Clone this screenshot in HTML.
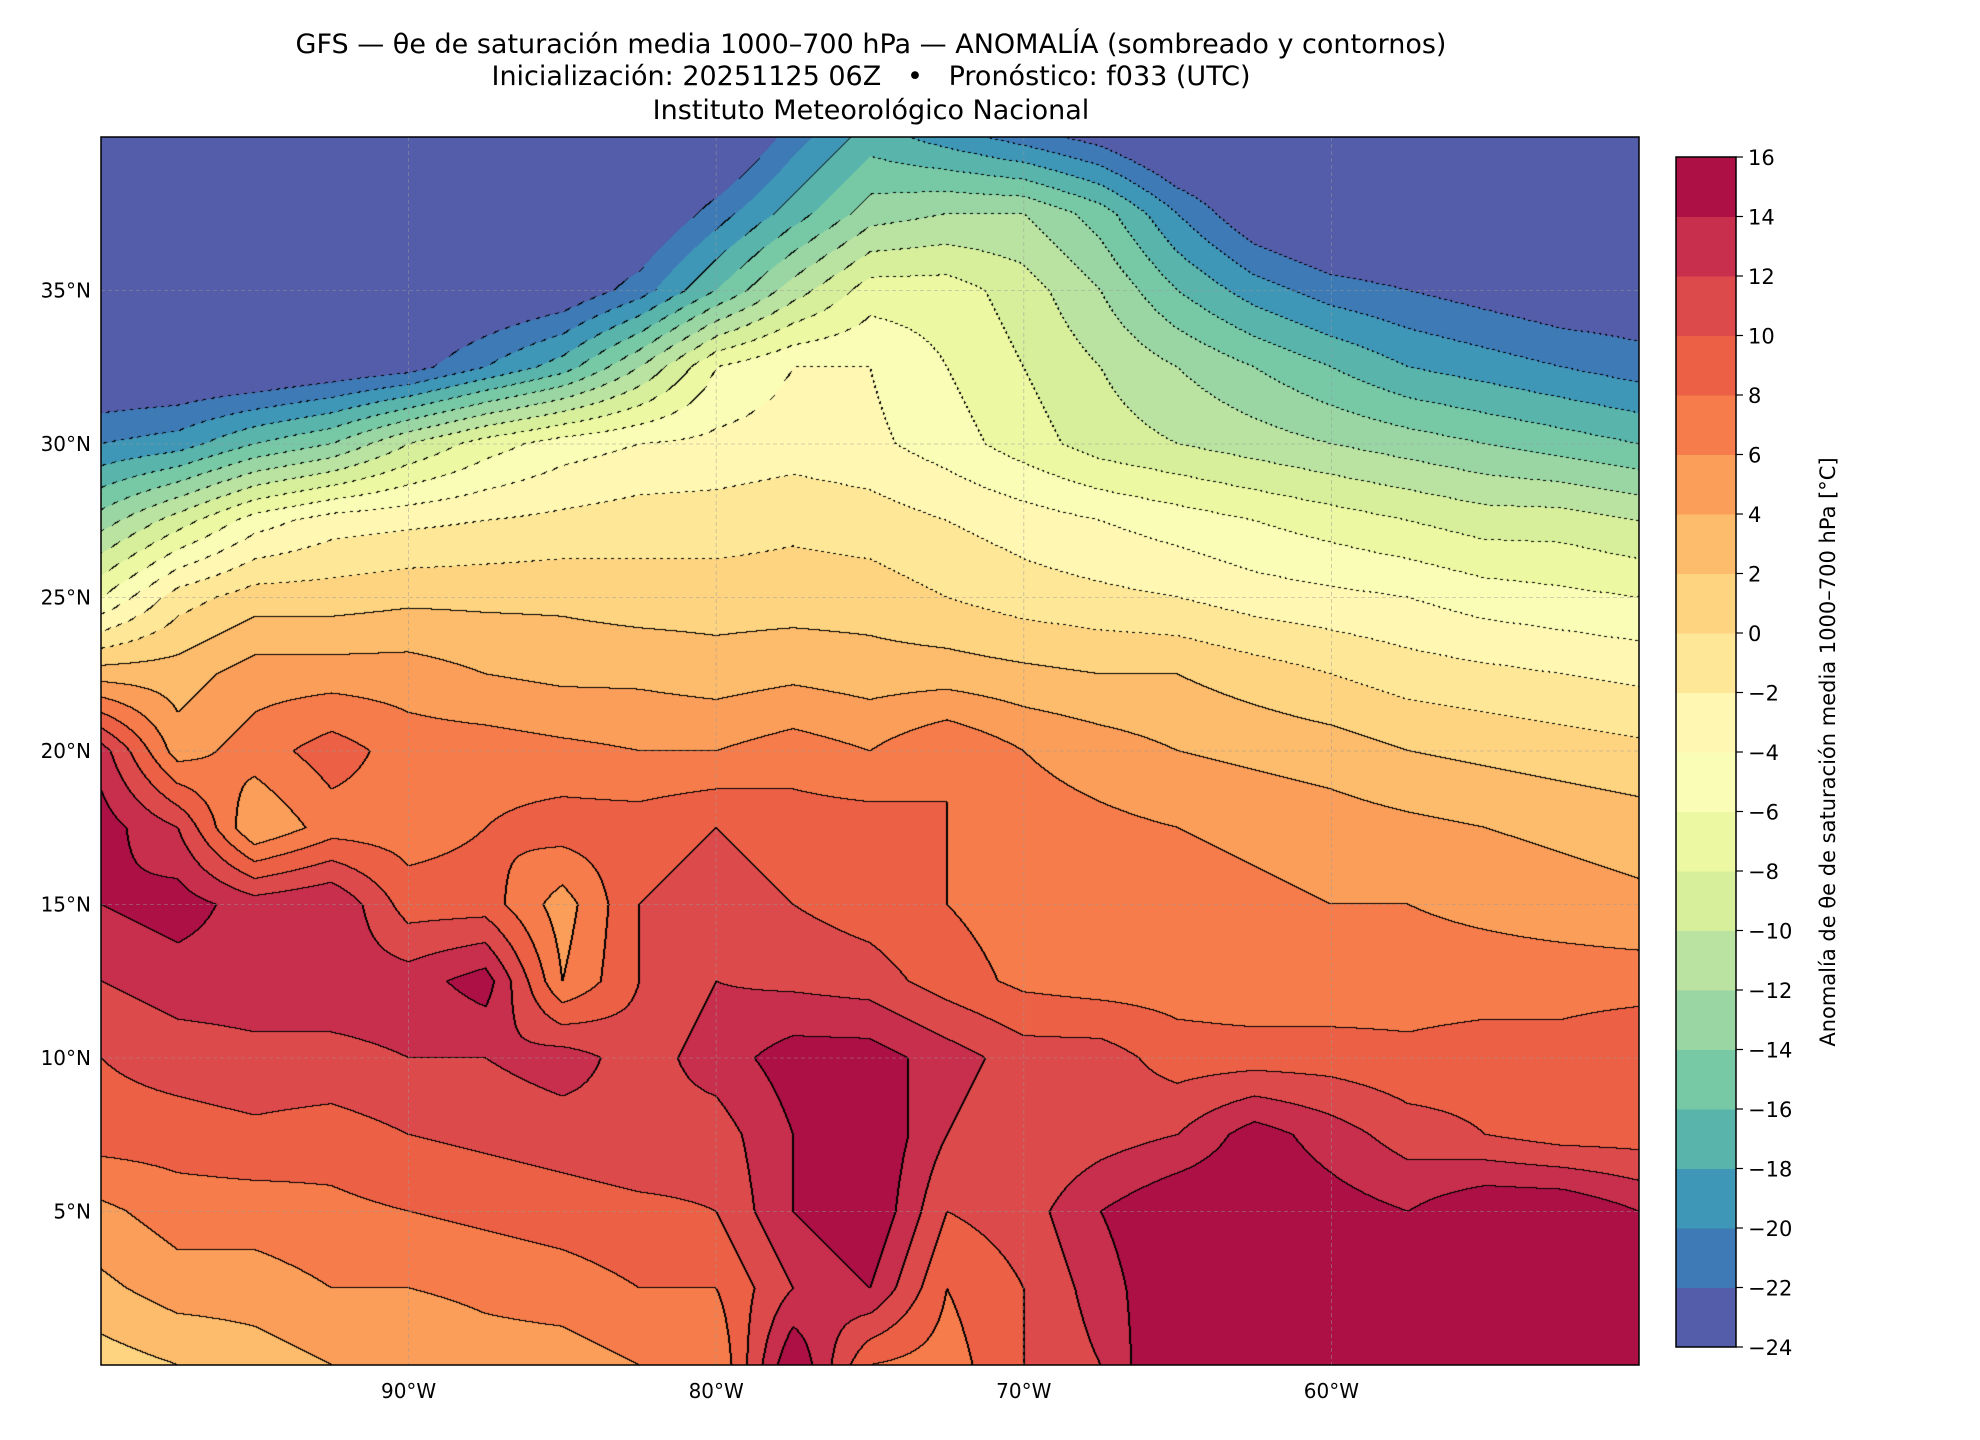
<!DOCTYPE html>
<html><head><meta charset="utf-8"><style>
body{margin:0;background:#fff;width:1980px;height:1440px;overflow:hidden;font-family:"DejaVu Sans","Liberation Sans",sans-serif}
.t{position:absolute;left:0;width:1742px;text-align:center;font-size:27px;color:#000;line-height:32px}
</style></head><body>
<div class="t" style="top:29px">GFS — θe de saturación media 1000–700 hPa — ANOMALÍA (sombreado y contornos)</div>
<div class="t" style="top:61px">Inicialización: 20251125 06Z &nbsp; • &nbsp; Pronóstico: f033 (UTC)</div>
<div class="t" style="top:95px">Instituto Meteorológico Nacional</div>
<svg id="svg" width="1980" height="1440" style="position:absolute;left:0;top:0">
<foreignObject x="101" y="137" width="1538" height="1228"><canvas id="cv" width="1538" height="1228" xmlns="http://www.w3.org/1999/xhtml"></canvas></foreignObject>
<g id="grid"></g><g id="axes"></g><g id="cbar"></g>
</svg>
<script>
const lons=[-100,-97.5,-95,-92.5,-90,-87.5,-85,-82.5,-80,-77.5,-75,-72.5,-70,-67.5,-65,-62.5,-60,-57.5,-55,-52.5,-50];
const lats=[40,37.5,35,32.5,30,27.5,25,22.5,20,17.5,15,12.5,10,7.5,5,2.5,0];
const row40=[-26,-26,-26,-26,-26,-26,-26,-26,-26,-21,-17,-19,-21,-23,-26,-26,-26,-26,-26,-26,-26];
const row37=[-26,-26,-26,-26,-26,-26,-26,-25,-21,-17,-13,-12,-12,-15,-20,-24,-26,-26,-26,-26,-26];
const row35=[-26,-26,-26,-26,-26,-25,-24,-21,-16,-11,-7,-7,-9,-12,-16,-19,-21,-22,-23,-24,-24];
const row32=[-25,-25,-25,-24,-23,-20,-17,-12,-6,-4,-4,-6,-8,-10,-12,-14,-16,-18,-19,-20,-21];
const row30=[-20,-19,-16,-14,-10,-7,-5,-4,-3.5,-3,-3.5,-5,-7,-9,-10,-11,-12,-13,-14,-15,-16];
const row27=[-13,-9,-5,-3,-2.5,-2,-1.5,-1,-1,-0.5,-1,-2,-3,-4,-5,-6,-7,-8,-9,-9,-10];
const row25=[-6,-1,1,1,1.5,1.5,1.5,1,1,1,1,0,-1,-1.5,-2,-3,-3.5,-4,-5,-5.5,-6];
const row22=[3,3,5,5,5,4,3.5,3.5,3,3.5,3,3,2.5,2,2,1,0,-1,-1.5,-2,-2.5];
const row20=[13,5,7,9,7,7,6.5,6,6,7,6,8,6,5,4,3.5,3,2,1.5,1,0.5];
const row17=[15,12,4,7,7,8,9,9,10,9,9,8,7,6.5,6,5.5,5,4.5,4,3.5,3];
const row15=[14,15,13,14,9,9,5,10,11,10,9,8,7,7,7,6.5,6,6,5.5,5,4.5];
const row12=[12,13,13,13,13,15,6,10,12,11.5,11,9,7.5,7,7,6.5,6.5,7,7,7,7];
const row10=[10,11,11.5,11.5,12,12,13,11,13,15,15,13,11,11,9,9,9,8.5,9,9,10];
const row7=[9,9,9.5,9,10,10.5,11,11.5,11,14,16,12,10,11,12,15,13,11,10,9,9];
const row5=[5.5,7,7,7.5,8,8.5,9,9.5,10,14,16,10,11,14,16,16,15,14,16,16,14];
const row2=[3.5,5,5,6,6,6.5,7,8,8,12,14,8,10,13,16,17,16,16,17,17,17];
const row0=[1,2,3,4,4,5,5,6,6,16,8,7,10,12,17,17,17,17,17,17,16];
const field=[row40,row37,row35,row32,row30,row27,row25,row22,row20,row17,row15,row12,row10,row7,row5,row2,row0];
const cbTicks=[16,14,12,10,8,6,4,2,0,-2,-4,-6,-8,-10,-12,-14,-16,-18,-20,-22,-24];
const lonTicks=[-90,-80,-70,-60];
const latTicks=[35,30,25,20,15,10,5];

const X0=101,X1=1639,Y0=137,Y1=1365,LON0=-100,LON1=-50,LAT0=0,LAT1=40;
const xs=lon=>X0+(lon-LON0)/(LON1-LON0)*(X1-X0);
const ys=lat=>Y1-(lat-LAT0)/(LAT1-LAT0)*(Y1-Y0);
const anchors=["#5e4fa2","#3288bd","#66c2a5","#abdda4","#e6f598","#ffffbf","#fee08b","#fdae61","#f46d43","#d53e4f","#9e0142"];
function hex(h){return[1,3,5].map(i=>parseInt(h.substr(i,2),16));}
function cmap(t){t=Math.max(0,Math.min(1,t))*10;let i=Math.min(9,Math.floor(t)),f=t-i;const a=hex(anchors[i]),b=hex(anchors[i+1]);return a.map((v,k)=>Math.round(v+(b[k]-v)*f));}
const VMIN=-24,VMAX=16,NB=20;
const binCol=[];for(let i=0;i<NB;i++)binCol.push(cmap((i+0.5)/NB));
function lvl(v){return Math.max(0,Math.min(NB-1,Math.floor((v-VMIN)/2)));}
const cv=document.getElementById('cv'),ctx=cv.getContext('2d');
const W=cv.width,H=cv.height,img=ctx.createImageData(W,H);
const L=new Int16Array(W*H);
function val(px,py){const lon=LON0+(px+0.5)/W*(LON1-LON0),lat=LAT1-(py+0.5)/H*(LAT1-LAT0);
 let fi=(lon-lons[0])/2.5,fj=(lats[0]-lat)/2.5;fi=Math.max(0,Math.min(lons.length-1.001,fi));fj=Math.max(0,Math.min(lats.length-1.001,fj));
 const i=Math.floor(fi),j=Math.floor(fj),a=fi-i,b=fj-j;
 return field[j][i]*(1-a)*(1-b)+field[j][i+1]*a*(1-b)+field[j+1][i]*(1-a)*b+field[j+1][i+1]*a*b;}
for(let y=0;y<H;y++)for(let x=0;x<W;x++)L[y*W+x]=lvl(val(x,y));
for(let y=0;y<H;y++)for(let x=0;x<W;x++){const k=y*W+x,l=L[k];const c=binCol[l];
 let black=false,neg=false;
 if(x+1<W&&L[k+1]!==l){black=true;neg=Math.max(l,L[k+1])<=12;}
 if(y+1<H&&L[k+W]!==l){black=true;neg=neg||Math.max(l,L[k+W])<=12;}
 if(x>0&&L[k-1]!==l){black=true;neg=neg||Math.max(l,L[k-1])<=12;}
 if(black&&neg&&((x+y)%7)>=3)black=false;
 const o=k*4;if(black){img.data[o]=img.data[o+1]=img.data[o+2]=0;}else{img.data[o]=c[0];img.data[o+1]=c[1];img.data[o+2]=c[2];}img.data[o+3]=255;}
ctx.putImageData(img,0,0);
const NS='http://www.w3.org/2000/svg';
function el(t,a,p){const e=document.createElementNS(NS,t);for(const k in a)e.setAttribute(k,a[k]);p.appendChild(e);return e;}
const grid=document.getElementById('grid'),axes=document.getElementById('axes'),cb=document.getElementById('cbar');
lonTicks.forEach(v=>{const g=el('line',{x1:xs(v),x2:xs(v),y1:Y0,y2:Y1,stroke:'#999','stroke-width':0.8,'stroke-dasharray':'4,3',opacity:0.6},grid);
 
 
 const t=el('text',{x:xs(v),y:Y1+33,'text-anchor':'middle','font-size':20},axes);t.textContent=Math.abs(v)+'°W';
 
 });
latTicks.forEach(v=>{const g=el('line',{x1:X0,x2:X1,y1:ys(v),y2:ys(v),stroke:'#999','stroke-width':0.8,'stroke-dasharray':'4,3',opacity:0.6},grid);
 
 
 const t=el('text',{x:X0-10,y:ys(v)+7,'text-anchor':'end','font-size':20},axes);t.textContent=v+'°N';
 
 });
const fr=el('rect',{x:X0,y:Y0,width:X1-X0,height:Y1-Y0,fill:'none',stroke:'#000','stroke-width':1.5},axes);


const CX0=1676,CX1=1736,CY0=157,CY1=1347;
const cy=v=>CY1-(v-VMIN)/(VMAX-VMIN)*(CY1-CY0);
for(let i=0;i<NB;i++){const v=VMIN+2*i;const c=binCol[i];
 const r=el('rect',{x:CX0,y:cy(v+2),width:CX1-CX0,height:cy(v)-cy(v+2)+0.5,fill:`rgb(${c})`},cb);
 
 }
const cf=el('rect',{x:CX0,y:CY0,width:CX1-CX0,height:CY1-CY0,fill:'none',stroke:'#000','stroke-width':1.5},cb);


cbTicks.forEach(v=>{el('line',{x1:CX1,x2:CX1+7,y1:cy(v),y2:cy(v),stroke:'#000','stroke-width':1.2},cb);
 const t=el('text',{x:CX1+12,y:cy(v)+8,'font-size':21},cb);t.textContent=v<0?'−'+Math.abs(v):v;
 
 });
const cl=el('text',{x:0,y:0,'font-size':21,'text-anchor':'middle',transform:`translate(1835,${(CY0+CY1)/2}) rotate(-90)`},cb);
cl.textContent='Anomalía de θe de saturación media 1000–700 hPa [°C]';


</script>
</body></html>
